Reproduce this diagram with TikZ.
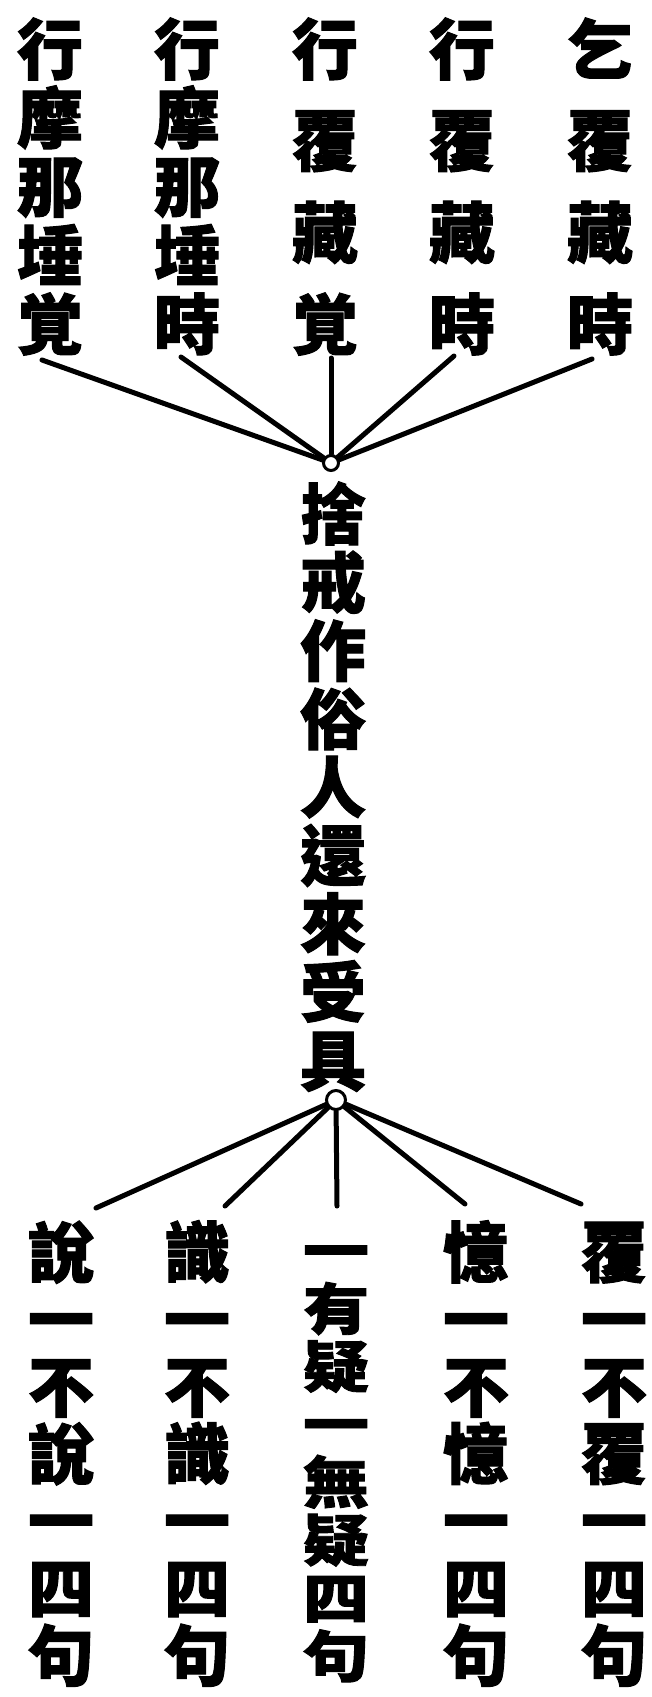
\documentclass[tikz,border=0pt]{standalone}
\usepackage{graphicx}
\usepackage{fontspec}
\newfontfamily\cjk[BoldFeatures={FakeBold=1.5}]{Noto Sans CJK TC}

\tikzset{
  glyph/.style={inner sep=0pt, text height=58pt, text depth=8pt,
    font={\cjk\bfseries\fontsize{66pt}{66pt}\selectfont}},
  flatglyph/.style={glyph, text height=50pt, text depth=7pt},
  spoke/.style={line width=5pt, line cap=round},
  hub/.style={circle, draw, line width=3pt, fill=white, inner sep=0pt}
}

\begin{document}
\begin{tikzpicture}[x=1pt, y=-1pt]
    \useasboundingbox (0,0) rectangle (652,1697);

    % the five headings on top
    \foreach \c [count=\i] in {行,摩,那,埵,覚}
        \node[glyph] (a\i) at (50, {49+68.75*(\i-1)}) {\c};
    \foreach \c [count=\i] in {行,摩,那,埵,時}
        \node[glyph] (b\i) at (187, {49+68.75*(\i-1)}) {\c};
    \foreach \c [count=\i] in {行,覆,藏,覚}
        \node[glyph] (c\i) at (325, {49+91.7*(\i-1)}) {\c};
    \foreach \c [count=\i] in {行,覆,藏,時}
        \node[glyph] (d\i) at (462, {49+91.7*(\i-1)}) {\c};
    \foreach \c [count=\i] in {乞,覆,藏,時}
        \node[glyph] (e\i) at (600, {49+91.7*(\i-1)}) {\c};

    \coordinate (ta) at (42,360);
    \coordinate (tb) at (181,357);
    \coordinate (tc) at (331,358);
    \coordinate (td) at (454,356);
    \coordinate (te) at (592,359);

    % the stem
    \node[hub, minimum size=15pt] (up) at (331,463) {};
    \foreach \c [count=\i] in {捨,戒,作,俗,人,還,來,受,具}
        \node[glyph] (m\i) at (333, {514+68.3*(\i-1)}) {\c};
    \node[hub, minimum size=19pt] (down) at (336,1100) {};

    % the five branches below
    \foreach \c [count=\i] in {說,一,不,說,一,四,句}
        \node[glyph] (p\i) at (61, {1252+67.2*(\i-1)}) {\c};
    \foreach \c [count=\i] in {識,一,不,識,一,四,句}
        \node[glyph] (q\i) at (197, {1252+67.2*(\i-1)}) {\c};
    \foreach \c [count=\i] in {一,有,疑,一,無,疑,四,句}
        \node[flatglyph] (r\i) at (336, {1250+57.9*(\i-1)}) {\scalebox{1}[.84]{\c}};
    \foreach \c [count=\i] in {憶,一,不,憶,一,四,句}
        \node[glyph] (s\i) at (476, {1252+67.2*(\i-1)}) {\c};
    \foreach \c [count=\i] in {覆,一,不,覆,一,四,句}
        \node[glyph] (u\i) at (614, {1252+67.2*(\i-1)}) {\c};

    \coordinate (bp) at (96,1208);
    \coordinate (bq) at (225,1206);
    \coordinate (br) at (337,1206);
    \coordinate (bs) at (465,1204);
    \coordinate (bu) at (581,1204);

    % spokes
    \foreach \t in {ta,tb,tc,td,te}
        \draw[spoke] (up) -- (\t);
    \foreach \t in {bp,bq,br,bs,bu}
        \draw[spoke] (down) -- (\t);
\end{tikzpicture}
\end{document}
